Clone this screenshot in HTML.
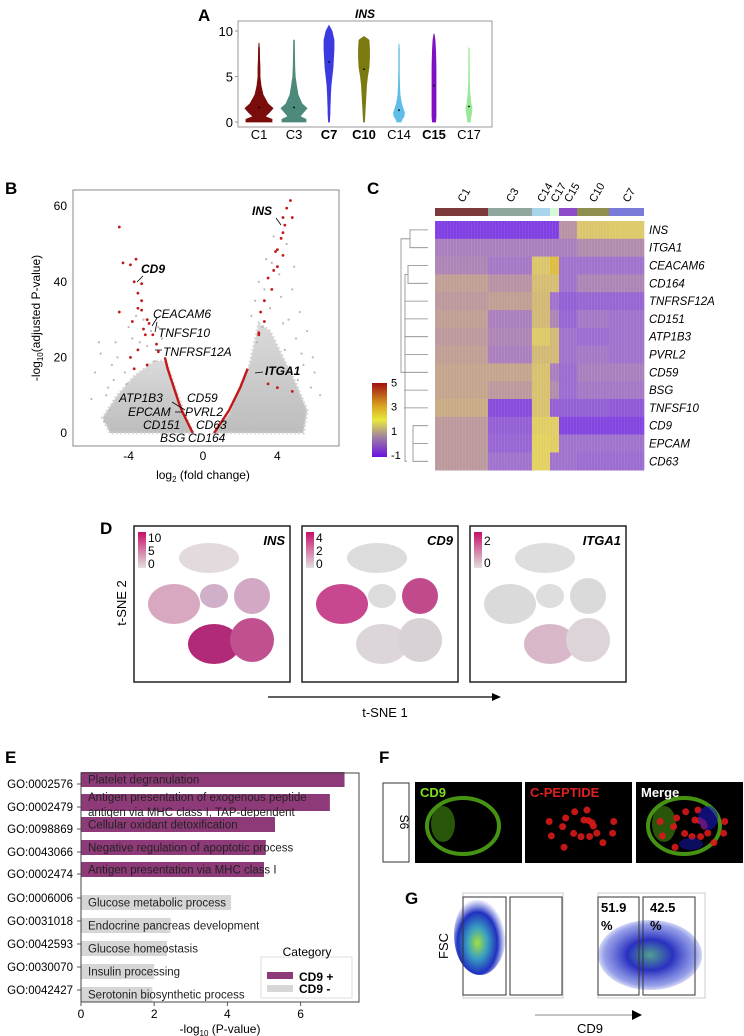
<!DOCTYPE html>
<html><head><meta charset="utf-8">
<style>
html,body{margin:0;padding:0;background:#fff;}
body{width:744px;height:1036px;overflow:hidden;position:relative;font-family:"Liberation Sans",Arial,sans-serif;}
svg{position:absolute;left:0;top:0;}
text{font-family:"Liberation Sans",Arial,sans-serif;}
</style></head>
<body>
<svg id="fig" width="744" height="1036" viewBox="0 0 744 1036">
<defs>
<linearGradient id="hmbar" x1="0" y1="1" x2="0" y2="0">
<stop offset="0" stop-color="#6a10e0"/><stop offset="0.25" stop-color="#9a78a8"/><stop offset="0.5" stop-color="#e8e840"/><stop offset="0.7" stop-color="#d8a020"/><stop offset="1" stop-color="#a01010"/></linearGradient>
<linearGradient id="pinkbar" x1="0" y1="1" x2="0" y2="0"><stop offset="0" stop-color="#e0e0e0"/><stop offset="1" stop-color="#c8106a"/></linearGradient>
<linearGradient id="cloudGrad" x1="0" y1="0" x2="0" y2="1"><stop offset="0" stop-color="#dadada"/><stop offset="1" stop-color="#bdbdbd"/></linearGradient>
<radialGradient id="flowL" cx="0.45" cy="0.6" r="0.55"><stop offset="0" stop-color="#a0e040"/><stop offset="0.35" stop-color="#3aa0c0"/><stop offset="0.7" stop-color="#2030c0"/><stop offset="1" stop-color="#4050d0" stop-opacity="0"/></radialGradient>
<radialGradient id="flowR" cx="0.5" cy="0.5" r="0.55"><stop offset="0" stop-color="#50a090"/><stop offset="0.4" stop-color="#2a30c0"/><stop offset="0.8" stop-color="#5060d8" stop-opacity="0.6"/><stop offset="1" stop-color="#6070e0" stop-opacity="0"/></radialGradient>
</defs>
<g id="panelA"></g>
<g id="panelB"></g>
<g id="panelC"></g>
<g id="panelD"></g>
<g id="panelE"></g>
<g id="panelF"></g>
<g id="panelG"></g>
</svg>
<script>
// ---------- Panel A data ----------
const violinCats = ["C1","C3","C7","C10","C14","C15","C17"];
const violinBold = [false,false,true,true,false,true,false];
const violinMax = [8.7,9.0,10.6,9.4,8.6,9.7,8.2];
const violinMed = [1.6,1.6,6.6,5.8,1.3,4.0,1.7];
const violinProfileVals = [0,0.3,0.6,1,1.5,2,3,4,5,6,7,8,9,10];
const violinProfiles = [
 [13,13,6,10,14,9,4,2,1,1,0.6,0.5,0.3,0],
 [12,12,6,9,13,8,4,2.5,1.2,0.8,0.6,0.5,0.4,0],
 [0.5,0.6,0.8,1,1,1.2,1.5,2,3,4,4.5,5,5,3],
 [0.5,0.6,0.8,1,1.2,1.5,2,2.5,3.5,5,5.5,5.5,5,0],
 [2,3,5,5.5,4,2.5,1,0.6,0.4,0.3,0.3,0.3,0,0],
 [1.6,1.8,2,2,2,2,2,2,2,2,1.8,1.5,1,0],
 [1.5,1.5,2,2.5,3,2,1,0.5,0.4,0.3,0.3,0.2,0,0]];
const violinColors = ["#7a0c0c","#4e8a7c","#3a3ae0","#7a7a10","#60bde8","#8010c0","#98e898"];
const violinTicks = [0,5,10];

// ---------- Panel B data ----------
const volcXTicks = [-4,0,4];
const volcYTicks = [0,20,40,60];
const redX = [-4.5,-4.3,-3.9,-3.6,-3.7,-3.3,-3.5,-3.3,-3.5,-3.3,-4.5,-3.8,-3.0,-2.9,-3.2,-3.1,-2.7,-2.5,-2.4,-3.5,-3.9,-3.0,-3.7,
 4.7,4.5,4.3,4.8,4.4,4.3,4.2,4.0,3.9,4.3,4.0,3.8,3.5,3.7,3.3,3.1,3.3,3.0,3.0,3.5,4.0,4.8];
const redY = [54.5,45,44.5,46,40,39.5,37,35,33,32.5,32,29.5,30,29,27.5,26,26,23.5,21.5,22,20,18,17,
 61.5,59.5,57,57,55,53,51.5,48.5,48,47,44,43,41,38,35,32,29.5,26.5,26,13,12,11];
const curveLX = [-0.55,-0.7,-0.9,-1.1,-1.3,-1.5,-1.7,-1.9,-2.05];
const curveLY = [0,1.5,3.5,5.5,8,11,14,17,20];
const curveRX = [0.6,0.8,1.0,1.2,1.4,1.6,1.8,2.0,2.2,2.4];
const curveRY = [0,1.5,3,4.5,6,8,10,12,14.5,17];
const grayX = [-5.6,-5.2,-4.8,-4.6,-4.2,-4.0,-3.8,-3.4,-5.0,-4.4,-2.8,-4.9,-5.3,-3.2,-2.2,3.0,3.4,3.8,4.2,4.6,5.0,5.4,5.8,4.4,3.6,5.2,2.6,4.9,6.0,3.2,
 -6.0,-5.8,-5.5,-4.1,-3.0,-2.6,-2.4,-4.7,-3.6,-5.1,2.8,3.3,3.9,4.1,4.5,5.3,5.6,6.3,3.7,4.8,2.9,5.1,5.9,4.3];
const grayY = [24,10,14,20,16,28,25,24,6,9,27,18,3,30,25,40,46,52,36,30,25,18,12,22,33,32,31,44,16,28,
 9,16,21,13,23,19,28,24,31,12,35,38,48,42,50,21,27,10,45,38,24,14,20,29];
const volcGeneLabels = ["INS","CD9","CEACAM6","TNFSF10","TNFRSF12A","ITGA1","ATP1B3","CD59","EPCAM","PVRL2","CD151","CD63","BSG","CD164"];

// ---------- Panel C data ----------
const hmClusters = ["C1","C3","C14","C17","C15","C10","C7"];
const hmClusterWidths = [53,44,18,9,18,32,35];
const hmClusterColors = ["#7c3a3a","#8fa79c","#a8d4ec","#d8f8d8","#8e4ac8","#8e8e50","#7a7ad8"];
const hmGenes = ["INS","ITGA1","CEACAM6","CD164","TNFRSF12A","CD151","ATP1B3","PVRL2","CD59","BSG","TNFSF10","CD9","EPCAM","CD63"];
const hmValues = [
 [-0.8,-0.8,-0.8,-0.8,0.5,1.5,1.6],
 [0.2,0.2,0.2,0.2,0.2,0.4,0.4],
 [0.3,0.1,1.5,2.5,0,0,0],
 [0.7,0.5,1.3,1.3,0,0.3,0.3],
 [0.6,0.7,1.2,0,-0.3,-0.2,-0.2],
 [0.7,0.2,1.2,0.3,-0.2,0.1,0],
 [0.6,0.3,1.6,1.2,0,-0.1,0],
 [0.7,0.2,1.2,1.2,0,0.1,0],
 [0.8,0.8,1.4,0.2,-0.1,0.2,0.2],
 [0.8,0.6,1.4,0.4,-0.1,0.1,0.1],
 [0.9,-0.6,1.4,-0.3,-0.3,-0.3,-0.4],
 [0.6,-0.3,1.7,1.7,-0.7,-0.7,-0.7],
 [0.6,-0.2,1.8,1.7,0,0,0],
 [0.6,0,1.8,0,0,-0.1,-0.1]];
const hmLegendTicks = [5,3,1,-1];

// ---------- Panel E data ----------
const goIds = ["GO:0002576","GO:0002479","GO:0098869","GO:0043066","GO:0002474","GO:0006006","GO:0031018","GO:0042593","GO:0030070","GO:0042427"];
const goTerms = ["Platelet degranulation","Antigen presentation of exogenous peptide|antigen via MHC class I, TAP-dependent","Cellular oxidant detoxification","Negative regulation of apoptotic process","Antigen presentation via MHC class I","Glucose metabolic process","Endocrine pancreas development","Glucose homeostasis","Insulin processing","Serotonin biosynthetic process"];
const goValues = [7.2,6.8,5.3,5.05,5.0,4.1,2.45,2.35,2.0,1.95];
const goCategory = ["CD9 +","CD9 +","CD9 +","CD9 +","CD9 +","CD9 -","CD9 -","CD9 -","CD9 -","CD9 -"];
const goXTicks = [0,2,4,6];

const NS="http://www.w3.org/2000/svg";
function mk(tag,attrs,parent,txt){const e=document.createElementNS(NS,tag);for(const k in attrs)e.setAttribute(k,attrs[k]);if(txt!==undefined)e.textContent=txt;parent.appendChild(e);return e;}

// ================= Panel A =================
(function(){
 const g=document.getElementById('panelA');
 const x0=238,x1=492,yTop=21,yBot=127;
 const ys=v=>122-v*9.1;
 const xs=i=>259+i*35;
 let t=mk('text',{x:198,y:21,'font-size':17,'font-weight':'bold'},g,'A');
 
 t=mk('text',{x:365,y:18,'font-size':12,'font-weight':'bold','font-style':'italic','text-anchor':'middle'},g,'INS');
 
 const box=mk('rect',{x:x0,y:yTop,width:x1-x0,height:yBot-yTop,fill:'none',stroke:'#999','stroke-width':1},g);
 
 violinTicks.forEach(v=>{
  const l=mk('text',{x:233,y:ys(v)+5,'font-size':13,'text-anchor':'end'},g,String(v));
  
  mk('line',{x1:235,x2:238,y1:ys(v),y2:ys(v),stroke:'#999'},g);
 });
 violinCats.forEach((c,i)=>{
  const cx=xs(i),prof=violinProfiles[i],mx=violinMax[i];
  let right=[],left=[];
  for(let k=0;k<violinProfileVals.length;k++){
   const v=violinProfileVals[k]; if(v>mx)break;
   right.push([cx+prof[k],ys(v)]);left.push([cx-prof[k],ys(v)]);
  }
  right.push([cx,ys(mx)]);
  const pts=right.concat(left.reverse()).map(p=>p[0].toFixed(1)+','+p[1].toFixed(1)).join(' ');
  const p=mk('polygon',{points:pts,fill:violinColors[i],stroke:violinColors[i],'stroke-width':0.8},g);
  
  mk('circle',{cx:cx,cy:ys(violinMed[i]),r:0.9,fill:'#000'},g);
  const l=mk('text',{x:cx,y:139,'font-size':13,'text-anchor':'middle','font-weight':violinBold[i]?'bold':'normal'},g,c);
  
 });
})();

// ================= Panel B =================
(function(){
 const g=document.getElementById('panelB');
 const xs=v=>203+v*18.6, ys=v=>433-v*3.78;
 let t=mk('text',{x:5,y:194,'font-size':17,'font-weight':'bold'},g,'B');
 
 const clip=mk('clipPath',{id:'volcClip'},g);mk('rect',{x:73,y:190,width:266,height:256},clip);
 const pg=mk('g',{'clip-path':'url(#volcClip)'},g);
 const cloudL=[[-0.5,0],[-5.0,0],[-5.4,4],[-4.6,10],[-3.7,15],[-2.6,19],[-2.0,19],[-1.5,12],[-0.9,4]];
 const cloudR=[[0.6,0],[5.4,0],[5.6,6],[5.0,13],[4.3,20],[3.6,27],[3.0,29],[2.5,18],[1.4,5]];
 [cloudL,cloudR].forEach((c,ci)=>{
  const p=mk('polygon',{points:c.map(q=>xs(q[0])+','+ys(q[1])).join(' '),fill:'url(#cloudGrad)',stroke:'#d4d4d4','stroke-width':3,'stroke-dasharray':'1.5 2.5'},pg);
  
 });
 grayX.forEach((x,i)=>{
  const c=mk('circle',{cx:xs(x),cy:ys(grayY[i]),r:1.1,fill:'#b8b8b8'},pg);
  
 });
 [[curveLX,curveLY],[curveRX,curveRY]].forEach((cv,ci)=>{
  const p=mk('polyline',{points:cv[0].map((x,i)=>xs(x)+','+ys(cv[1][i])).join(' '),fill:'none',stroke:'#c41818','stroke-width':2.4},pg);
  
 });
 redX.forEach((x,i)=>{
  const c=mk('circle',{cx:xs(x),cy:ys(redY[i]),r:1.4,fill:'#c41818'},pg);
  
 });
 const box=mk('rect',{x:73,y:190,width:266,height:256,fill:'none',stroke:'#888','stroke-width':1},g);
 
 volcYTicks.forEach(v=>{
  const l=mk('text',{x:67,y:ys(v)+4,'font-size':12,'text-anchor':'end'},g,String(v));
  
 });
 volcXTicks.forEach(v=>{
  const l=mk('text',{x:xs(v),y:460,'font-size':12,'text-anchor':'middle'},g,String(v));
  
 });
 const yl=mk('text',{x:0,y:0,'font-size':12,'text-anchor':'middle',transform:'translate(40,318) rotate(-90)'},g);
 
 yl.innerHTML='-log<tspan font-size="8" dy="3">10</tspan><tspan dy="-3">(adjusted P-value)</tspan>';
 const xl=mk('text',{x:203,y:479,'font-size':12,'text-anchor':'middle'},g);
 
 xl.innerHTML='log<tspan font-size="8" dy="3">2</tspan><tspan dy="-3"> (fold change)</tspan>';
 const lab=[[252,215,1],[141,273,1],[153,318,0],[158,337,0],[163,356,0],[265,375,1],[119,402,0],[187,402,0],[128,416,0],[185,416,0],[143,429,0],[196,429,0],[160,442,0],[188,442,0]];
 volcGeneLabels.forEach((n,i)=>{
  const l=mk('text',{x:lab[i][0],y:lab[i][1],'font-size':12,'font-style':'italic','font-weight':lab[i][2]?'bold':'normal'},g,n);
  
 });
 [[276,218,281,225],[137,282,143,276],[152,326,157,318],[155,332,157,322],[155,350,162,350],[255,373,263,372],[172,402,185,410],[175,412,182,412]].forEach(s=>mk('line',{x1:s[0],y1:s[1],x2:s[2],y2:s[3],stroke:'#000','stroke-width':0.8},g));
})();

// ================= Panel C =================
(function(){
 const g=document.getElementById('panelC');
 let t=mk('text',{x:367,y:194,'font-size':17,'font-weight':'bold'},g,'C');
 
 const stops=[[-1,[120,50,232]],[0,[160,115,205]],[1,[205,178,125]],[2,[232,218,90]],[3,[212,160,40]],[5,[160,20,20]]];
 function col(v){for(let i=0;i<stops.length-1;i++){const a=stops[i],b=stops[i+1];if(v<=b[0]||i==stops.length-2){const f=Math.max(0,Math.min(1,(v-a[0])/(b[0]-a[0])));const c=a[1].map((q,k)=>Math.round(q+(b[1][k]-q)*f));return 'rgb('+c.join(',')+')';}}}
 const hx0=435,hy0=221,rh=17.8;
 let x=hx0;
 const xStarts=[];
 hmClusters.forEach((c,j)=>{
  xStarts.push(x);
  const r=mk('rect',{x:x,y:208,width:hmClusterWidths[j],height:8,fill:hmClusterColors[j]},g);
  
  const cx=x+hmClusterWidths[j]/2;
  const l=mk('text',{x:0,y:0,'font-size':11,transform:'translate('+(cx+2)+',203) rotate(-60)'},g,c);
  
  x+=hmClusterWidths[j];
 });
 hmGenes.forEach((gn,i)=>{
  hmClusters.forEach((c,j)=>{
   const r=mk('rect',{x:xStarts[j],y:hy0+i*rh,width:hmClusterWidths[j]+0.3,height:rh+0.3,fill:col(hmValues[i][j])},g);
   
  });
  const l=mk('text',{x:649,y:hy0+i*rh+rh/2+4,'font-size':11.5,'font-style':'italic'},g,gn);
  
 });
 for(let k=0;k<70;k++){mk('rect',{x:hx0+k*3,y:hy0,width:1,height:rh*14,fill:'#fff',opacity:0.07},g);}
 const dg=mk('g',{stroke:'#888','stroke-width':0.8,fill:'none'},g);
 
 const ry=i=>hy0+i*rh+rh/2;
 mk('path',{d:`M428 ${ry(0)}H410V${ry(1)}H428 M410 ${(ry(0)+ry(1))/2}H401V${ry(8)}H406`},dg);
 mk('path',{d:`M428 ${ry(2)}H408V${ry(3)}H428`},dg);
 for(let i=4;i<11;i++)mk('path',{d:`M428 ${ry(i)}H${406-i*0.2}`},dg);
 mk('path',{d:`M408 ${(ry(2)+ry(3))/2}H405V${ry(13)}H407`},dg);
 mk('path',{d:`M428 ${ry(11)}H413V${ry(13)}H428 M428 ${ry(12)}H413`},dg);
 const lb=mk('rect',{x:372,y:383,width:15,height:74,fill:'url(#hmbar)'},g);
 
 const ly=v=>455-(v+1)*12.1;
 hmLegendTicks.forEach(v=>{
  const l=mk('text',{x:391,y:ly(v)+4,'font-size':11},g,String(v));
  
 });
})();

// ================= Panel D =================
(function(){
 const g=document.getElementById('panelD');
 let t=mk('text',{x:100,y:534,'font-size':17,'font-weight':'bold'},g,'D');
 
 const panels=[{x:134,name:'INS',ticks:['10','5','0'],c:['#e2dadd','#d8a8c0','#d0b0c8','#d2a8c4','#b02a78','#c05090']},
  {x:302,name:'CD9',ticks:['4','2','0'],c:['#dcdcdc','#c84890','#dcdcdc','#c04a8c','#dcd6da','#d8d2d6']},
  {x:470,name:'ITGA1',ticks:['2','0'],c:['#dedede','#dadada','#dedede','#dadada','#d8b8c8','#dcd4d8']}];
 const blobs=[[75,32,30,15],[40,78,26,20],[80,70,14,12],[118,70,18,18],[80,118,26,20],[118,114,22,22]];
 panels.forEach((p,pi)=>{
  const pg=mk('g',{},g);
  
  blobs.forEach((b,bi)=>{
   const e=mk('ellipse',{cx:p.x+b[0],cy:526+b[1],rx:b[2],ry:b[3],fill:p.c[bi]},pg);
   
  });
  mk('rect',{x:p.x,y:526,width:156,height:156,fill:'none',stroke:'#222','stroke-width':1.5},pg);
  mk('rect',{x:p.x+4,y:532,width:8,height:36,fill:'url(#pinkbar)'},pg);
  p.ticks.forEach((tk,i)=>{
   const yy=p.ticks.length==3?[542,555,568][i]:[545,567][i];
   mk('text',{x:p.x+14,y:yy,'font-size':12},pg,tk);
  });
  const tl=mk('text',{x:p.x+151,y:545,'font-size':13,'font-weight':'bold','font-style':'italic','text-anchor':'end'},pg,p.name);
  
 });
 const y2=mk('text',{x:0,y:0,'font-size':13,'text-anchor':'middle',transform:'translate(126,603) rotate(-90)'},g,'t-SNE 2');
 
 mk('line',{x1:268,y1:697,x2:494,y2:697,stroke:'#000','stroke-width':1.3},g);
 mk('polygon',{points:'501,697 492,693 492,701',fill:'#000'},g);
 const x1=mk('text',{x:385,y:717,'font-size':13,'text-anchor':'middle'},g,'t-SNE 1');
 
})();

// ================= Panel E =================
(function(){
 const g=document.getElementById('panelE');
 let t=mk('text',{x:5,y:763,'font-size':17,'font-weight':'bold'},g,'E');
 
 const xs=v=>81+v*36.6;
 const rowY=[784,807,829,852,874,898,921,944,967,990];
 goIds.forEach((id,i)=>{
  const plus=goCategory[i]==="CD9 +";
  const top=rowY[i]+(plus?(i==1?-13:-12):-3);
  const h=i==1?17:15;
  const b=mk('rect',{x:81,y:top,width:xs(goValues[i])-81,height:h,fill:plus?'#8e3a78':'#d6d6d6'},g);
  
  const l=mk('text',{x:73,y:rowY[i]+4,'font-size':11.5,'text-anchor':'end'},g,id);
  
  mk('line',{x1:77,x2:81,y1:rowY[i],y2:rowY[i],stroke:'#555'},g);
  const parts=goTerms[i].split('|');
  parts.forEach((pt,k)=>{
   const yy=parts.length>1?top+7+k*15:top+h/2+4;
   const tt=mk('text',{x:88,y:yy,'font-size':11.5,fill:'#222'},g,pt);
   
  });
 });
 mk('rect',{x:81,y:773,width:278,height:229,fill:'none',stroke:'#444','stroke-width':1},g);
 goXTicks.forEach(v=>{
  mk('line',{x1:xs(v),x2:xs(v),y1:1002,y2:1006,stroke:'#555'},g);
  const l=mk('text',{x:xs(v),y:1018,'font-size':12,'text-anchor':'middle'},g,String(v));
  
 });
 const xl=mk('text',{x:220,y:1033,'font-size':12,'text-anchor':'middle'},g);
 
 xl.innerHTML='-log<tspan font-size="8" dy="3">10</tspan><tspan dy="-3"> (P-value)</tspan>';
 const lg=mk('g',{},g);
 
 mk('rect',{x:261,y:957,width:91,height:41,fill:'#fff',stroke:'#ddd'},lg);
 mk('text',{x:307,y:956,'font-size':12,'text-anchor':'middle'},lg,'Category');
 mk('rect',{x:267,y:972,width:26,height:7,fill:'#8e3a78'},lg);
 mk('rect',{x:267,y:985,width:26,height:7,fill:'#d6d6d6'},lg);
 mk('text',{x:299,y:981,'font-size':12,'font-weight':'bold'},lg,'CD9 +');
 mk('text',{x:299,y:993,'font-size':12,'font-weight':'bold'},lg,'CD9 -');
})();

// ================= Panel F =================
(function(){
 const g=document.getElementById('panelF');
 let t=mk('text',{x:379,y:763,'font-size':17,'font-weight':'bold'},g,'F');
 
 mk('rect',{x:383,y:783,width:26,height:79,fill:'#fff',stroke:'#333'},g);
 mk('text',{x:0,y:0,'font-size':12,'text-anchor':'middle',transform:'translate(400,822) rotate(90)'},g,'S6');
 const imgs=[[415,'CD9','#7ee020'],[525,'C-PEPTIDE','#e02020'],[636,'Merge','#ffffff']];
 imgs.forEach((im,i)=>{
  const ig=mk('g',{},g);
  
  mk('rect',{x:im[0],y:782,width:107,height:81,fill:'#000'},ig);
  const cx=im[0]+50,cy=826;
  if(i==0||i==2){mk('ellipse',{cx:cx-2,cy:cy,rx:36,ry:28,fill:'none',stroke:'#58b818','stroke-width':4,opacity:0.8},ig);
   mk('ellipse',{cx:cx-22,cy:cy-2,rx:12,ry:18,fill:'#3a7a10',opacity:0.7},ig);}
  if(i==1||i==2){for(let k=0;k<18;k++){const a=k*2.4,r=6+(k%5)*5;mk('circle',{cx:cx+10+r*Math.cos(a)*1.4,cy:cy+r*Math.sin(a),r:3.5,fill:'#d81818',opacity:0.9},ig);}}
  if(i==2){mk('ellipse',{cx:cx+22,cy:cy-8,rx:10,ry:12,fill:'#1818c0',opacity:0.6},ig);mk('ellipse',{cx:cx+5,cy:cy+18,rx:12,ry:6,fill:'#1818c0',opacity:0.5},ig);}
  mk('text',{x:im[0]+5,y:797,'font-size':13,'font-weight':'bold',fill:im[2]},ig,im[1]);
 });
})();

// ================= Panel G =================
(function(){
 const g=document.getElementById('panelG');
 let t=mk('text',{x:405,y:904,'font-size':17,'font-weight':'bold'},g,'G');
 
 const plots=[[463,563,'flowL',[480,935,26,40]],[598,705,'flowR',[650,955,52,35]]];
 plots.forEach((p,i)=>{
  const pg=mk('g',{},g);
  
  mk('rect',{x:p[0],y:893,width:p[1]-p[0],height:105,fill:'#fff',stroke:'#ccc'},pg);
  mk('ellipse',{cx:p[3][0],cy:p[3][1],rx:p[3][2],ry:p[3][3],fill:'url(#'+p[2]+')'},pg);
  const gx=i==0?[[463,506],[510,562]]:[[598,639],[643,695]];
  gx.forEach(q=>mk('rect',{x:q[0],y:897,width:q[1]-q[0],height:98,fill:'none',stroke:'#333','stroke-width':1},pg));
 });
 mk('text',{x:601,y:912,'font-size':13,'font-weight':'bold'},g,'51.9');
 mk('text',{x:601,y:930,'font-size':13,'font-weight':'bold'},g,'%');
 mk('text',{x:650,y:912,'font-size':13,'font-weight':'bold'},g,'42.5');
 mk('text',{x:650,y:930,'font-size':13,'font-weight':'bold'},g,'%');
 mk('text',{x:0,y:0,'font-size':13,'text-anchor':'middle',transform:'translate(448,946) rotate(-90)'},g,'FSC');
 mk('line',{x1:535,y1:1015,x2:634,y2:1015,stroke:'#888','stroke-width':1},g);
 mk('polygon',{points:'642,1015 632,1010 632,1020',fill:'#000'},g);
 mk('text',{x:590,y:1033,'font-size':13,'text-anchor':'middle'},g,'CD9');
})();
</script>
</body></html>
